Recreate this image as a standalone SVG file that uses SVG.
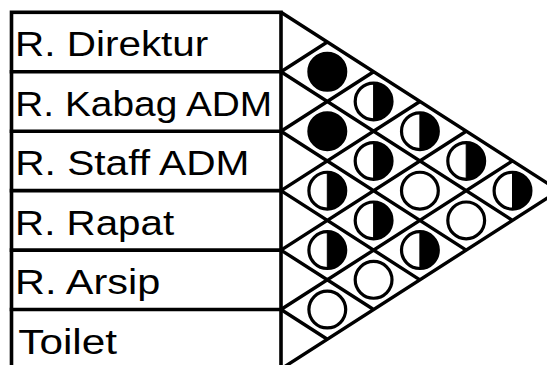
<svg xmlns="http://www.w3.org/2000/svg" width="547" height="365" viewBox="0 0 547 365">
  <style>
    .frame { fill: none; stroke: #000; stroke-width: 3.6; stroke-linecap: square; }
    .grid { fill: none; stroke: #000; stroke-width: 3.4; stroke-linejoin: miter; stroke-linecap: butt; }
    .label { font-family: "Liberation Sans", Arial, Helvetica, sans-serif; font-size: 35.5px; fill: #000; }
    .ring { stroke: #000; stroke-width: 3.2; }
  </style>
  <defs>
    <!-- relationship symbols: full, half, none -->
    <g id="rel-full"><circle r="18.4" class="ring" fill="#000"/></g>
    <g id="rel-half"><circle r="18.4" class="ring" fill="#fff"/><path d="M0,-18.4 A18.4,18.4 0 0 1 0,18.4 Z" fill="#000" stroke="#000" stroke-width="1"/></g>
    <g id="rel-none"><circle r="18.4" class="ring" fill="#fff"/></g>
  </defs>

  <rect x="0" y="0" width="547" height="365" fill="#fff"/>

  <!-- room list -->
  <g id="room-table">
    <rect class="frame" x="11.5" y="12.3" width="269.5" height="356.7"/>
  </g>
  <g id="room-direktur">
    <text class="label" x="15.1" y="56.3" textLength="193.2" lengthAdjust="spacingAndGlyphs">R. Direktur</text>
  </g>
  <g id="room-kabag-adm">
    <line class="frame" x1="11.5" y1="71.75" x2="281" y2="71.75"/>
    <text class="label" x="15.3" y="115.75" textLength="256.9" lengthAdjust="spacingAndGlyphs">R. Kabag ADM</text>
  </g>
  <g id="room-staff-adm">
    <line class="frame" x1="11.5" y1="131.2" x2="281" y2="131.2"/>
    <text class="label" x="15.2" y="175.4" textLength="234.3" lengthAdjust="spacingAndGlyphs">R. Staff ADM</text>
  </g>
  <g id="room-rapat">
    <line class="frame" x1="11.5" y1="190.65" x2="281" y2="190.65"/>
    <text class="label" x="15.1" y="234.65" textLength="159" lengthAdjust="spacingAndGlyphs">R. Rapat</text>
  </g>
  <g id="room-arsip">
    <line class="frame" x1="11.5" y1="250.1" x2="281" y2="250.1"/>
    <text class="label" x="15.1" y="294.3" textLength="145.2" lengthAdjust="spacingAndGlyphs">R. Arsip</text>
  </g>
  <g id="room-toilet">
    <line class="frame" x1="11.5" y1="309.55" x2="281" y2="309.55"/>
    <text class="label" x="18.3" y="353.55" textLength="98.7" lengthAdjust="spacingAndGlyphs">Toilet</text>
  </g>

  <!-- diamond grid of the matrix -->
  <g id="connectors">
    <path class="grid" d="
      M281,12.3 L558.8,190.65 L281,369
      M281,71.75 L512.5,220.38
      M281,131.2 L466.2,250.1
      M281,190.65 L419.9,279.83
      M281,250.1 L373.6,309.55
      M281,309.55 L327.3,339.28
      M281,71.75 L327.3,42.03
      M281,131.2 L373.6,71.75
      M281,190.65 L419.9,101.48
      M281,250.1 L466.2,131.2
      M281,309.55 L512.5,160.93"/>
  </g>

  <!-- relationship cells -->
  <g id="cells">
    <use href="#rel-full" x="327.3" y="71.75"/>
    <use href="#rel-full" x="327.3" y="131.2"/>
    <use href="#rel-half" x="327.3" y="190.65"/>
    <use href="#rel-half" x="327.3" y="250.1"/>
    <use href="#rel-none" x="327.3" y="309.55"/>

    <use href="#rel-half" x="373.6" y="101.48"/>
    <use href="#rel-half" x="373.6" y="160.93"/>
    <use href="#rel-half" x="373.6" y="220.38"/>
    <use href="#rel-none" x="373.6" y="279.83"/>

    <use href="#rel-half" x="419.9" y="131.2"/>
    <use href="#rel-none" x="419.9" y="190.65"/>
    <use href="#rel-half" x="419.9" y="250.1"/>

    <use href="#rel-half" x="466.2" y="160.93"/>
    <use href="#rel-none" x="466.2" y="220.38"/>

    <use href="#rel-half" x="512.5" y="190.65"/>
  </g>
</svg>
